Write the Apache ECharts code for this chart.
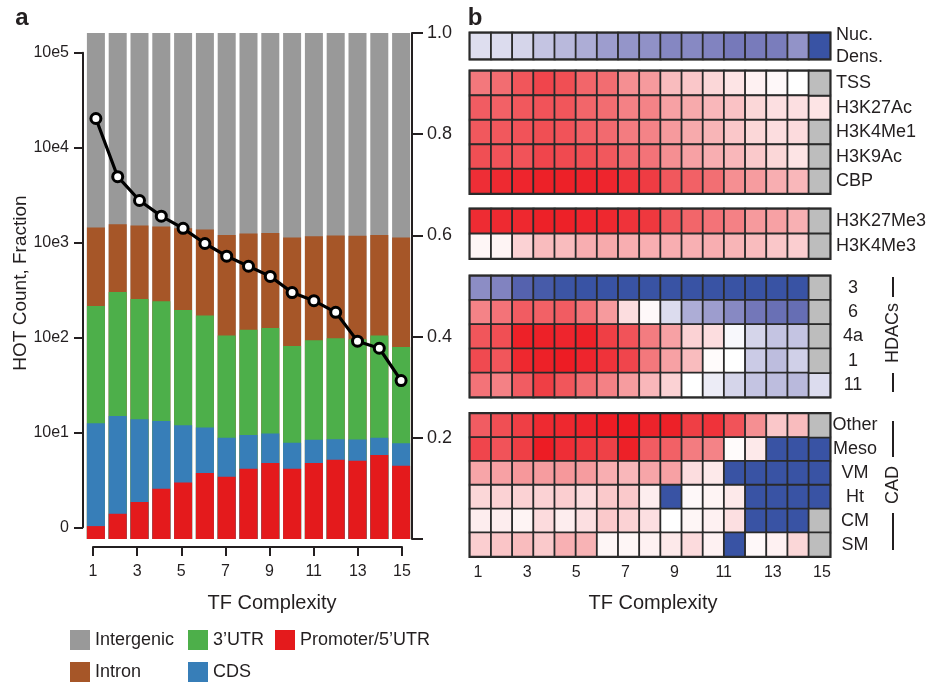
<!DOCTYPE html>
<html><head><meta charset="utf-8">
<script src="https://cdn.jsdelivr.net/npm/echarts@6/dist/echarts.min.js"></script>
<style>html,body{margin:0;padding:0;background:#fff}#c{width:931px;height:684px}</style>
</head><body><div id="c"></div>
<script>
// ---------- Panel a data ----------
const complexity = [1,2,3,4,5,6,7,8,9,10,11,12,13,14,15];
const logTickValues = [0,1,2,3,4,5];
const logTickLabels = ['0','10e1','10e2','10e3','10e4','10e5'];
// cumulative top of each stacked region, in log units of the left axis
const intergenicTop = [5.21,5.21,5.21,5.21,5.21,5.21,5.21,5.21,5.21,5.21,5.21,5.21,5.21,5.21,5.21];
const intronTop = [3.158,3.193,3.179,3.169,3.151,3.137,3.081,3.095,3.102,3.053,3.066,3.074,3.071,3.081,3.053];
const utr3Top = [2.33,2.478,2.404,2.38,2.29,2.23,2.02,2.08,2.10,1.91,1.97,1.99,1.98,2.02,1.90];
const cdsTop = [1.094,1.172,1.137,1.119,1.074,1.049,0.943,0.972,0.986,0.888,0.92,0.927,0.923,0.943,0.884];
const promoterTop = [0.01,0.14,0.264,0.404,0.471,0.57,0.531,0.615,0.675,0.615,0.675,0.71,0.70,0.76,0.647];
const fraction = [0.831,0.716,0.669,0.638,0.614,0.584,0.559,0.539,0.519,0.487,0.471,0.448,0.391,0.377,0.313];
const LOG_MIN = -0.126, LOG_MAX = 5.21;

// ---------- Panel b data ----------
const heatCols = ['1','2','3','4','5','6','7','8','9','10','11','12','13','14','15','16','17'];
const nucRows = ['Nuc.\nDens.'];
const nucDens = [-0.14,-0.15,-0.18,-0.25,-0.3,-0.35,-0.42,-0.46,-0.48,-0.53,-0.52,-0.55,-0.6,-0.59,-0.58,-0.47,-1.0];

const markRows = ['TSS','H3K27Ac','H3K4Me1','H3K9Ac','CBP'];
const tss     = [0.6,0.65,0.75,0.82,0.78,0.68,0.65,0.5,0.45,0.3,0.25,0.18,0.12,0.06,0.03,0.0,null];
const h3k27ac = [0.72,0.7,0.74,0.76,0.75,0.68,0.65,0.56,0.55,0.42,0.38,0.32,0.27,0.18,0.14,0.14,0.12];
const h3k4me1 = [0.74,0.74,0.76,0.78,0.76,0.7,0.66,0.58,0.55,0.45,0.38,0.33,0.25,0.18,0.15,0.16,null];
const h3k9ac  = [0.78,0.76,0.76,0.82,0.8,0.78,0.74,0.66,0.62,0.5,0.42,0.36,0.32,0.24,0.18,0.12,null];
const cbp     = [0.92,0.94,0.96,0.98,0.98,0.97,0.96,0.9,0.86,0.74,0.7,0.64,0.5,0.44,0.36,0.32,null];

const methRows = ['H3K27Me3','H3K4Me3'];
const h3k27me3 = [0.93,0.94,0.95,0.98,0.98,0.96,0.95,0.9,0.88,0.75,0.68,0.62,0.56,0.45,0.42,0.35,null];
const h3k4me3  = [0.04,0.05,0.2,0.3,0.3,0.36,0.38,0.36,0.36,0.36,0.35,0.36,0.33,0.3,0.25,0.22,null];

const hdacRows = ['3','6','4a','1','11'];
const hdac3  = [-0.5,-0.55,-0.8,-0.9,-0.98,-1,-1,-1,-1,-1,-1,-1,-1,-1,-1,-1,null];
const hdac6  = [0.55,0.62,0.72,0.7,0.72,0.62,0.45,0.15,0.03,-0.15,-0.35,-0.42,-0.52,-0.62,-0.68,-0.7,null];
const hdac4a = [0.75,0.78,0.98,0.98,0.96,0.98,0.85,0.76,0.58,0.42,0.2,0.15,-0.03,-0.18,-0.25,-0.25,null];
const hdac1  = [0.8,0.75,0.95,0.98,1.0,0.96,0.9,0.82,0.6,0.42,0.3,0.02,0.0,-0.22,-0.28,-0.2,null];
const hdac11 = [0.62,0.56,0.72,0.85,0.75,0.65,0.56,0.44,0.32,0.2,0.0,-0.08,-0.18,-0.25,-0.28,-0.3,-0.15];

const cadRows = ['Other','Meso','VM','Ht','CM','SM'];
const cadOther = [0.72,0.78,0.85,0.94,0.95,0.97,1.0,1.0,0.97,0.98,0.85,0.9,0.76,0.5,0.25,0.3,null];
const cadMeso  = [0.82,0.76,0.85,1.0,0.92,0.88,0.84,0.98,0.72,0.7,0.58,0.55,0.02,0.1,-1,-1,-1];
const cadVM    = [0.4,0.42,0.46,0.44,0.46,0.44,0.36,0.32,0.4,0.42,0.15,0.1,-1,-1,-1,-1,-1];
const cadHt    = [0.18,0.2,0.2,0.2,0.22,0.16,0.24,0.24,0.08,-1,0.03,0.05,0.1,-1,-1,-1,-1];
const cadCM    = [0.08,0.08,0.05,0.16,0.08,0.14,0.24,0.2,0.14,0.0,0.04,0.06,0.14,-1,-1,-1,null];
const cadSM    = [0.22,0.26,0.3,0.24,0.35,0.34,0.04,0.04,0.06,0.1,0.16,0.06,-1,0.03,0.06,0.18,null];

const heatBlocks = [
  {rows: nucRows, values: [nucDens]},
  {rows: markRows, values: [tss,h3k27ac,h3k4me1,h3k9ac,cbp]},
  {rows: methRows, values: [h3k27me3,h3k4me3]},
  {rows: hdacRows, values: [hdac3,hdac6,hdac4a,hdac1,hdac11]},
  {rows: cadRows, values: [cadOther,cadMeso,cadVM,cadHt,cadCM,cadSM]}
];

// ---------- layout ----------
const FONT = 'Liberation Sans, Arial, sans-serif';
const TXT = '#231f20';
const heatLayout = [
  {top: 33, height: 26, align: 'left', margin: 6},
  {top: 71, height: 122.5, align: 'left', margin: 6},
  {top: 209, height: 49.5, align: 'left', margin: 6},
  {top: 276, height: 121, align: 'center', margin: 23},
  {top: 413.5, height: 143, align: 'center', margin: 25}
];

const chart = echarts.init(document.getElementById('c'), null, {renderer: 'canvas'});

const grids = [
  {left: 85, width: 327, top: 33, height: 506},          // 0 bars
  {left: 83, width: 1, top: 52.7, height: 474.6},         // 1 left log axis
  {left: 93, width: 309, top: 540, height: 7}              // 2 panel a x-axis
];
const xAxes = [
  {gridIndex: 0, type: 'category', data: complexity, show: false},
  {gridIndex: 1, type: 'value', show: false},
  {gridIndex: 2, type: 'value', min: 1, max: 15, interval: 2,
   axisLine: {lineStyle: {color: TXT, width: 2}},
   axisTick: {length: 9, lineStyle: {color: TXT, width: 2}},
   axisLabel: {fontSize: 16, fontFamily: FONT, color: TXT, margin: 17},
   splitLine: {show: false}}
];
const yAxes = [
  {gridIndex: 0, type: 'value', min: 0, max: LOG_MAX - LOG_MIN, show: false, splitLine: {show: false}},
  {gridIndex: 0, type: 'value', position: 'right', min: 0, max: 1, interval: 0.2,
   axisLine: {show: true, lineStyle: {color: TXT, width: 2}},
   axisTick: {show: true, length: 11, lineStyle: {color: TXT, width: 2}},
   axisLabel: {fontSize: 18, fontFamily: FONT, color: TXT, margin: 15,
     formatter: v => v === 0 ? '' : v.toFixed(1)},
   splitLine: {show: false}},
  {gridIndex: 1, type: 'value', min: 0, max: 5, interval: 1,
   axisLine: {show: true, lineStyle: {color: TXT, width: 2}},
   axisTick: {show: true, length: 9, lineStyle: {color: TXT, width: 2}},
   axisLabel: {fontSize: 16, fontFamily: FONT, color: TXT, margin: 14,
     formatter: v => logTickLabels[logTickValues.indexOf(Math.round(v))]},
   splitLine: {show: false}},
  {gridIndex: 2, type: 'value', show: false}
];

const series = [];
const barDefs = [
  ['Intergenic', intergenicTop, '#999999'],
  ['Intron', intronTop, '#a65628'],
  ['3\u2019UTR', utr3Top, '#4daf4a'],
  ['CDS', cdsTop, '#377eb8'],
  ['Promoter/5\u2019UTR', promoterTop, '#e41a1c']
];
barDefs.forEach(([name, arr, color]) => {
  series.push({
    name, type: 'bar', xAxisIndex: 0, yAxisIndex: 0,
    data: arr.map(v => v - LOG_MIN), barWidth: 18, barGap: '-100%',
    itemStyle: {color}, emphasis: {disabled: true}, silent: true
  });
});
series.push({
  name: 'Fraction', type: 'line', xAxisIndex: 0, yAxisIndex: 1, data: fraction,
  symbol: 'circle', symbolSize: 10, z: 5,
  lineStyle: {color: '#000', width: 3.2},
  itemStyle: {color: '#fff', borderColor: '#000', borderWidth: 3}
});

const valueSeriesIdx = [];
heatBlocks.forEach((blk, b) => {
  const g = grids.length;
  const xi = xAxes.length, yi = yAxes.length;
  const L = heatLayout[b];
  grids.push({left: 470, width: 360, top: L.top, height: L.height, show: true,
    borderColor: '#2a2a2a', borderWidth: 3, backgroundColor: 'transparent'});
  xAxes.push({gridIndex: g, type: 'category', data: heatCols, show: false});
  yAxes.push({gridIndex: g, type: 'category', data: blk.rows, inverse: true, position: 'right',
    axisLine: {show: false}, axisTick: {show: false}, splitLine: {show: false},
    axisLabel: {fontSize: 18, fontFamily: FONT, color: TXT, margin: L.margin, align: L.align, lineHeight: 22}});
  const vals = [], miss = [];
  blk.values.forEach((row, r) => row.forEach((v, c) => {
    if (v === null) miss.push([c, r, 0]); else vals.push([c, r, v]);
  }));
  valueSeriesIdx.push(series.length);
  series.push({type: 'heatmap', xAxisIndex: xi, yAxisIndex: yi, data: vals,
    itemStyle: {borderColor: '#2a2a2a', borderWidth: 1.8}, emphasis: {disabled: true}});
  if (miss.length) {
    series.push({type: 'heatmap', xAxisIndex: xi, yAxisIndex: yi, data: miss,
      itemStyle: {color: '#bdbdbd', borderColor: '#2a2a2a', borderWidth: 1.8}, emphasis: {disabled: true}});
  }
});
// heatmap bottom label axis
const gl = grids.length;
grids.push({left: 478, width: 344, top: 556, height: 1});
xAxes.push({gridIndex: gl, type: 'value', min: 1, max: 15, interval: 2,
  axisLine: {show: false}, axisTick: {show: false}, splitLine: {show: false},
  axisLabel: {fontSize: 16, fontFamily: FONT, color: TXT, margin: 8}});
yAxes.push({gridIndex: gl, type: 'value', show: false});

// legends, one per item
const legendPos = [
  ['Intergenic', 70, 630], ['3\u2019UTR', 188, 630], ['Promoter/5\u2019UTR', 275, 630],
  ['Intron', 70, 662], ['CDS', 188, 662]
];
const legends = legendPos.map(([n, x, y]) => ({
  data: [n], left: x, top: y, padding: 0, itemWidth: 20, itemHeight: 20, itemGap: 0,
  icon: 'rect', selectedMode: false,
  textStyle: {fontSize: 18, fontFamily: FONT, color: TXT, padding: [0, 0, 0, 0]}
}));

const txt = (text, x, y, size, extra) => Object.assign({
  type: 'text', x, y, silent: true,
  style: Object.assign({text, fontSize: size, fontFamily: FONT, fill: TXT, textAlign: 'center', textVerticalAlign: 'middle'}, extra || {})
});
const vline = (x, y1, y2) => ({type: 'line', silent: true, shape: {x1: x, y1, x2: x, y2},
  style: {stroke: TXT, lineWidth: 2}});

const graphics = [
  txt('a', 22, 18, 24, {fontWeight: 'bold'}),
  txt('b', 475, 18, 24, {fontWeight: 'bold'}),
  Object.assign(txt('HOT Count, Fraction', 21, 283, 19), {rotation: Math.PI / 2}),
  txt('TF Complexity', 272, 603, 20),
  txt('TF Complexity', 653, 603, 20),
  vline(893, 277, 297),
  Object.assign(txt('HDACs', 893, 333, 18), {rotation: Math.PI / 2}),
  vline(893, 373, 392),
  vline(893, 421, 457),
  Object.assign(txt('CAD', 893, 485, 18), {rotation: Math.PI / 2}),
  vline(893, 513, 550)
];

chart.setOption({
  animation: false,
  backgroundColor: '#fff',
  textStyle: {fontFamily: FONT},
  grid: grids, xAxis: xAxes, yAxis: yAxes,
  legend: legends,
  visualMap: {type: 'continuous', show: false, min: -1, max: 1, seriesIndex: valueSeriesIdx,
    inRange: {color: ['#3953a4','#5562ae','#7679ba','#a1a1d0','#d0d0e8','#ffffff',
                      '#fbd2d4','#f7a5a8','#f3787c','#f04a50','#ed1c24']}},
  series,
  graphic: graphics
});
</script>
</body></html>
